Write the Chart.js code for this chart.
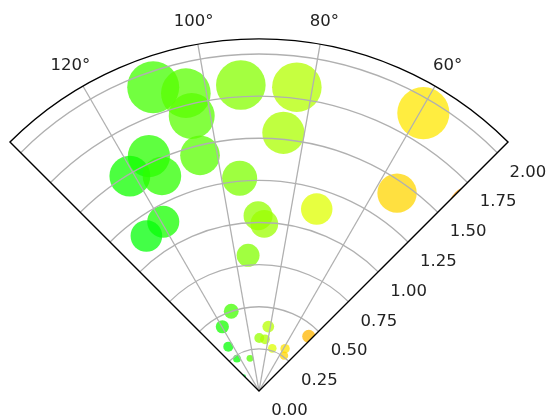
<!DOCTYPE html>
<html lang="en">
<head>
    <meta charset="UTF-8">
    <title>Polar scatter on a sector</title>
    <script src="https://cdn.jsdelivr.net/npm/chart.js"></script>
    <style>
        body {
            margin: 0;
            padding: 0;
            background-color: #fff;
        }
        canvas {
            display: block;
        }
    </style>
</head>
<body>
    <canvas id="polarChart" width="555" height="420"></canvas>

    <script>
        // angle of each point (degrees) and its radius
        var thetaDeg = [109.2, 103.8, 103.75, 93.4, 82.9, 84.6, 59.4, 55.1, 115.1, 121.0,
                        114.3, 104.05, 119.5, 126.0, 95.2, 90.3, 88.2, 72.4, 94.6, 109.2,
                        119.7, 81.8, 89.7, 83.4, 47.7, 124.7, 72.7, 58.4, 54.7, 124.3,
                        105.4, 137.0, 40.7];
        var radius = [1.909, 1.820, 1.680, 1.819, 1.817, 1.539, 1.916, 1.432, 1.540, 1.488,
                      1.400, 1.442, 1.154, 1.137, 1.268, 1.040, 0.992, 1.133, 0.808, 0.501,
                      0.439, 0.386, 0.315, 0.309, 0.439, 0.320, 0.265, 0.295, 0.257, 0.232,
                      0.201, 0.125, 1.661];

        var thetaTicks = [60, 80, 100, 120];
        var thetaLabels = ['60°', '80°', '100°', '120°'];
        var radialTicks = [0, 0.25, 0.5, 0.75, 1.0, 1.25, 1.5, 1.75, 2.0];
        var radialLabels = ['0.00', '0.25', '0.50', '0.75', '1.00', '1.25', '1.50', '1.75', '2.00'];

        var thetaMin = 45, thetaMax = 135, rMax = 2.09;
        // colour range of the whole (full-circle) sample the colormap was normalised on
        var colorMin = 5, colorMax = 359;

        // where the pole sits on the canvas and how many px one unit is
        var W = 555, H = 420, OX = 259, OY = 391, PPU = 168.5;
        var FONT = '16.5px "DejaVu Sans", sans-serif';

        // matplotlib 'hsv' colormap
        function interp(table, v) {
            for (var i = 1; i < table.length; i++) {
                if (v <= table[i][0]) {
                    var a = table[i - 1], b = table[i];
                    return a[1] + (b[1] - a[1]) * (v - a[0]) / (b[0] - a[0]);
                }
            }
            return table[table.length - 1][1];
        }
        var redT = [[0, 1], [0.158730, 1], [0.174603, 0.96875], [0.333333, 0.03125], [0.349206, 0],
                    [0.666667, 0], [0.682540, 0.03125], [0.841270, 0.96875], [0.857143, 1], [1, 1]];
        var greenT = [[0, 0], [0.158730, 0.9375], [0.174603, 1], [0.507937, 1], [0.666667, 0.0625],
                      [0.682540, 0], [1, 0]];
        var blueT = [[0, 0], [0.333333, 0], [0.349206, 0.0625], [0.507937, 1], [0.841270, 1],
                     [0.857143, 0.9375], [1, 0.09375]];
        function hsvColor(deg, alpha) {
            var v = Math.min(1, Math.max(0, (deg - colorMin) / (colorMax - colorMin)));
            var r = Math.round(255 * interp(redT, v));
            var g = Math.round(255 * interp(greenT, v));
            var b = Math.round(255 * interp(blueT, v));
            return 'rgba(' + r + ',' + g + ',' + b + ',' + alpha + ')';
        }

        function rad(d) { return d * Math.PI / 180; }

        var points = thetaDeg.map(function(t, i) {
            return { x: radius[i] * Math.cos(rad(t)), y: radius[i] * Math.sin(rad(t)) };
        });

        function polarPx(chart, r, deg) {
            var xs = chart.scales.x, ys = chart.scales.y;
            return {
                x: xs.getPixelForValue(r * Math.cos(rad(deg))),
                y: ys.getPixelForValue(r * Math.sin(rad(deg)))
            };
        }

        function sectorPath(ctx, chart, r) {
            var o = polarPx(chart, 0, 0);
            var R = chart.scales.x.getPixelForValue(r) - chart.scales.x.getPixelForValue(0);
            ctx.beginPath();
            ctx.moveTo(o.x, o.y);
            ctx.arc(o.x, o.y, R, -rad(thetaMax), -rad(thetaMin));
            ctx.closePath();
        }

        var polarFrame = {
            id: 'polarFrame',
            beforeDatasetsDraw: function(chart) {
                var ctx = chart.ctx;
                ctx.save();
                sectorPath(ctx, chart, rMax);
                ctx.clip();
            },
            afterDatasetsDraw: function(chart) {
                var ctx = chart.ctx;
                ctx.restore();

                var o = polarPx(chart, 0, 0);
                var ppu = chart.scales.x.getPixelForValue(1) - chart.scales.x.getPixelForValue(0);

                // grid (drawn above the markers like matplotlib does)
                ctx.save();
                ctx.strokeStyle = '#b0b0b0';
                ctx.lineWidth = 1.3;
                radialTicks.forEach(function(r) {
                    if (r <= 0) return;
                    ctx.beginPath();
                    ctx.arc(o.x, o.y, r * ppu, -rad(thetaMax), -rad(thetaMin));
                    ctx.stroke();
                });
                thetaTicks.forEach(function(t) {
                    var p = polarPx(chart, rMax, t);
                    ctx.beginPath();
                    ctx.moveTo(o.x, o.y);
                    ctx.lineTo(p.x, p.y);
                    ctx.stroke();
                });

                // spines
                ctx.strokeStyle = '#000';
                ctx.lineWidth = 1.4;
                sectorPath(ctx, chart, rMax);
                ctx.stroke();

                // labels
                ctx.fillStyle = '#222';
                ctx.font = FONT;
                ctx.textAlign = 'center';
                ctx.textBaseline = 'alphabetic';
                thetaTicks.forEach(function(t, i) {
                    var p = polarPx(chart, rMax + 25 / ppu, t);
                    ctx.fillText(thetaLabels[i], p.x, p.y + 6);
                });
                radialTicks.forEach(function(r, i) {
                    var p = polarPx(chart, r, thetaMin);
                    ctx.fillText(radialLabels[i], p.x + 30.5, p.y + 18 + 6);
                });
                ctx.restore();
            }
        };

        var ctx = document.getElementById('polarChart').getContext('2d');
        window.polarChart = new Chart(ctx, {
            type: 'scatter',
            data: {
                datasets: [{
                    data: points,
                    backgroundColor: thetaDeg.map(function(t) { return hsvColor(t, 0.75); }),
                    borderWidth: 0,
                    pointRadius: function(c) { return 13.2 * radius[c.dataIndex] + 0.8; },
                    pointHoverRadius: function(c) { return 13.2 * radius[c.dataIndex] + 0.8; }
                }]
            },
            options: {
                responsive: false,
                animation: false,
                devicePixelRatio: 1,
                layout: { padding: 0, autoPadding: false },
                plugins: {
                    legend: { display: false },
                    tooltip: { enabled: false }
                },
                events: [],
                scales: {
                    x: { type: 'linear', display: false, min: -OX / PPU, max: (W - OX) / PPU },
                    y: { type: 'linear', display: false, min: -(H - OY) / PPU, max: OY / PPU }
                }
            },
            plugins: [polarFrame]
        });
    </script>
</body>
</html>
